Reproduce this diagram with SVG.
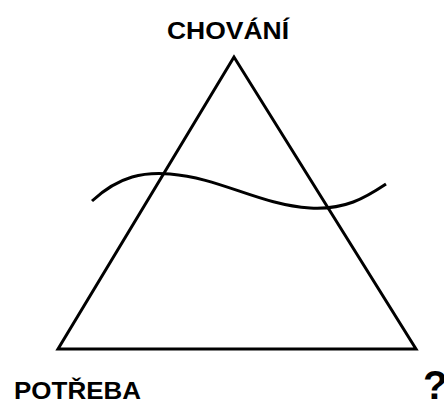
<svg xmlns="http://www.w3.org/2000/svg" width="444" height="400" viewBox="0 0 444 400">
<style>
.lbl{font-family:"Liberation Sans",Arial,sans-serif;font-weight:bold;font-size:23px;fill:#000}
.ln{fill:none;stroke:#000;stroke-width:3}
</style>
<rect width="444" height="400" fill="#fff"/>
<g id="triangle"><polygon class="ln" points="234,57 58,349 416,349" stroke-linejoin="miter"/></g>
<g id="connectors"><path class="ln" d="M92,201 C120,175 145,172 170,174 C220,178 260,205 310,208 C345,210 365,198 386,184"/></g>
<g id="chovani"><text class="lbl" x="167" y="38.5" textLength="122" lengthAdjust="spacingAndGlyphs">CHOVÁNÍ</text></g>
<g id="potreba"><text class="lbl" x="14" y="398.5" textLength="127" lengthAdjust="spacingAndGlyphs">POTŘEBA</text></g>
<g id="question"><text class="lbl" style="font-size:40px" x="423" y="399">?</text></g>
</svg>
